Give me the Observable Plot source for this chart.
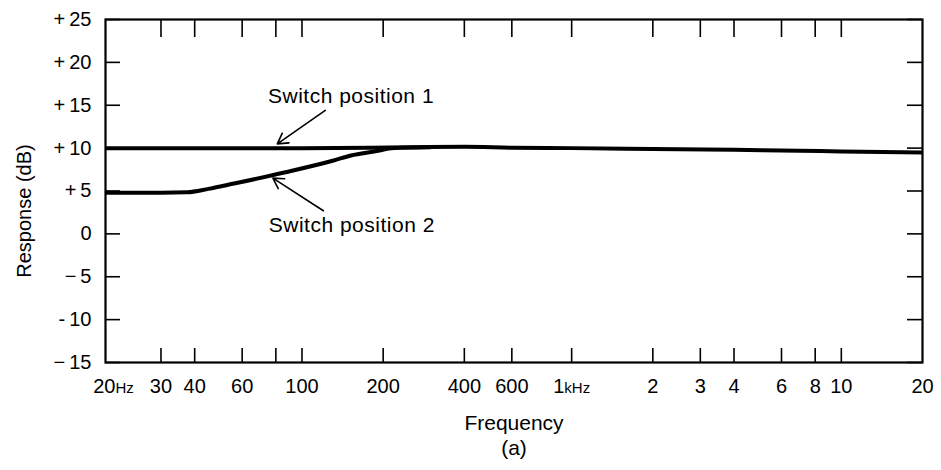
<!DOCTYPE html>
<html><head><meta charset="utf-8">
<script src="https://cdn.jsdelivr.net/npm/d3@7"></script>
<script src="https://cdn.jsdelivr.net/npm/@observablehq/plot@0.6"></script>
<style>
html,body{margin:0;padding:0;background:#fff;}
</style></head><body><div id="chart"></div>
<script>
// Switch position 1 response
const freq1 = [18.8, 20, 50, 100, 250, 400, 600, 1000, 2000, 4000, 7000, 10000, 20000];
const resp1 = [10.0, 10.0, 10.0, 10.0, 10.1, 10.15, 10.05, 10.0, 9.9, 9.8, 9.7, 9.6, 9.5];
// Switch position 2 response
const freq2 = [18.8, 20, 30, 37.5, 45, 56, 86, 131, 152, 185, 220, 300];
const resp2 = [4.8, 4.8, 4.8, 4.85, 5.25, 5.87, 7.16, 8.56, 9.14, 9.6, 10.0, 10.1];

// axis ticks and labels
const xTickVals = [30, 40, 60, 80, 100, 200, 400, 600, 1000, 2000, 3000, 4000, 6000, 8000, 10000];
const xLabelVals = [20, 30, 40, 60, 100, 200, 400, 600, 1000, 2000, 3000, 4000, 6000, 8000, 10000, 20000];
const xLabelText = ["20Hz", "30", "40", "60", "100", "200", "400", "600", "1kHz", "2", "3", "4", "6", "8", "10", "20"];
const yTickVals = [25, 20, 15, 10, 5, 0, -5, -10, -15];
const yLabelText = ["+\u200925", "+\u200920", "+\u200915", "+\u200910", "+\u20095", "0", "\u2212\u20095", "-\u200910", "\u2212\u200915"];

// annotations
const noteText = ["Switch position 1", "Switch position 2"];
const noteFreq = [152, 153];
const noteResp = [16.0, 1.0];
const arrowFrom = [[122, 14.4], [120, 2.7]];
const arrowTo = [[81, 10.5], [78, 6.5]];

const xLabelMap = new Map(xLabelVals.map((v, i) => [v, xLabelText[i]]));
const yLabelMap = new Map(yTickVals.map((v, i) => [v, yLabelText[i]]));
const s1 = freq1.map((f, i) => ({f, r: resp1[i]}));
const s2 = freq2.map((f, i) => ({f, r: resp2[i]}));
const notes = noteText.map((t, i) => ({t, f: noteFreq[i], r: noteResp[i]}));
const arrows = arrowFrom.map((a, i) => ({x1: a[0], y1: a[1], x2: arrowTo[i][0], y2: arrowTo[i][1]}));

const W = 941, H = 470, mL = 105, mR = 19, mT = 19, mB = 108;
const fw = W - mL - mR, fh = H - mT - mB;

const chart = Plot.plot({
  width: W, height: H,
  marginLeft: mL, marginRight: mR, marginTop: mT, marginBottom: mB,
  style: {fontFamily: "'Liberation Sans', Arial, sans-serif", fontSize: "20px", background: "#fff", color: "#000"},
  x: {type: "log", domain: [20, 20000], range: [113, 922], axis: null},
  y: {domain: [-15, 25]},
  marks: [
    Plot.text(xLabelVals, {x: d => d, text: d => xLabelMap.get(d), frameAnchor: "bottom", dy: 24, lineAnchor: "middle", fontSize: 20, fill: "#000"}),
    Plot.axisY(yTickVals, {tickSize: 0, tickPadding: 14, tickFormat: d => yLabelMap.get(d), label: null, fontSize: 20}),
    Plot.tickY(yTickVals, {y: d => d, stroke: "#000", strokeWidth: 1.6, insetRight: fw - 15}),
    Plot.tickY(yTickVals, {y: d => d, stroke: "#000", strokeWidth: 1.6, insetLeft: fw - 15}),
    Plot.tickX(xTickVals, {x: d => d, stroke: "#000", strokeWidth: 1.6, insetBottom: fh - 18}),
    Plot.tickX(xTickVals, {x: d => d, stroke: "#000", strokeWidth: 1.6, insetTop: fh - 14}),
    Plot.frame({stroke: "#000", strokeWidth: 2.2}),
    Plot.line(s1, {x: "f", y: "r", stroke: "#000", strokeWidth: 4, curve: "monotone-x", clip: true}),
    Plot.line(s2, {x: "f", y: "r", stroke: "#000", strokeWidth: 4, curve: "monotone-x", clip: true}),
    Plot.arrow(arrows, {x1: "x1", y1: "y1", x2: "x2", y2: "y2", stroke: "#000", strokeWidth: 1.6, headLength: 11}),
    Plot.text(notes, {x: "f", y: "r", text: "t", fontSize: 21, fill: "#000", textAnchor: "middle"}),
    Plot.text(["Response (dB)"], {frameAnchor: "left", textAnchor: "middle", lineAnchor: "middle", rotate: -90, dx: -81, dy: 20, fontSize: 20, fill: "#000"}),
    Plot.text(["Frequency"], {frameAnchor: "bottom", dy: 67, fontSize: 21, fill: "#000"}),
    Plot.text(["(a)"], {frameAnchor: "bottom", dy: 92, fontSize: 21, fill: "#000"})
  ]
});
// smaller unit suffixes on tick labels; slightly wider tracking on notes
chart.querySelectorAll("text").forEach(t => {
  const s = t.textContent;
  if (s === "20Hz" || s === "1kHz") {
    const num = s.startsWith("20") ? "20" : "1";
    const unit = s.slice(num.length);
    t.textContent = num;
    const ts = document.createElementNS("http://www.w3.org/2000/svg", "tspan");
    ts.setAttribute("font-size", "15");
    ts.textContent = unit;
    t.appendChild(ts);
  }
  if (s.startsWith("Switch")) t.setAttribute("letter-spacing", "0.5");
});
document.getElementById("chart").appendChild(chart);
</script>
</body></html>
